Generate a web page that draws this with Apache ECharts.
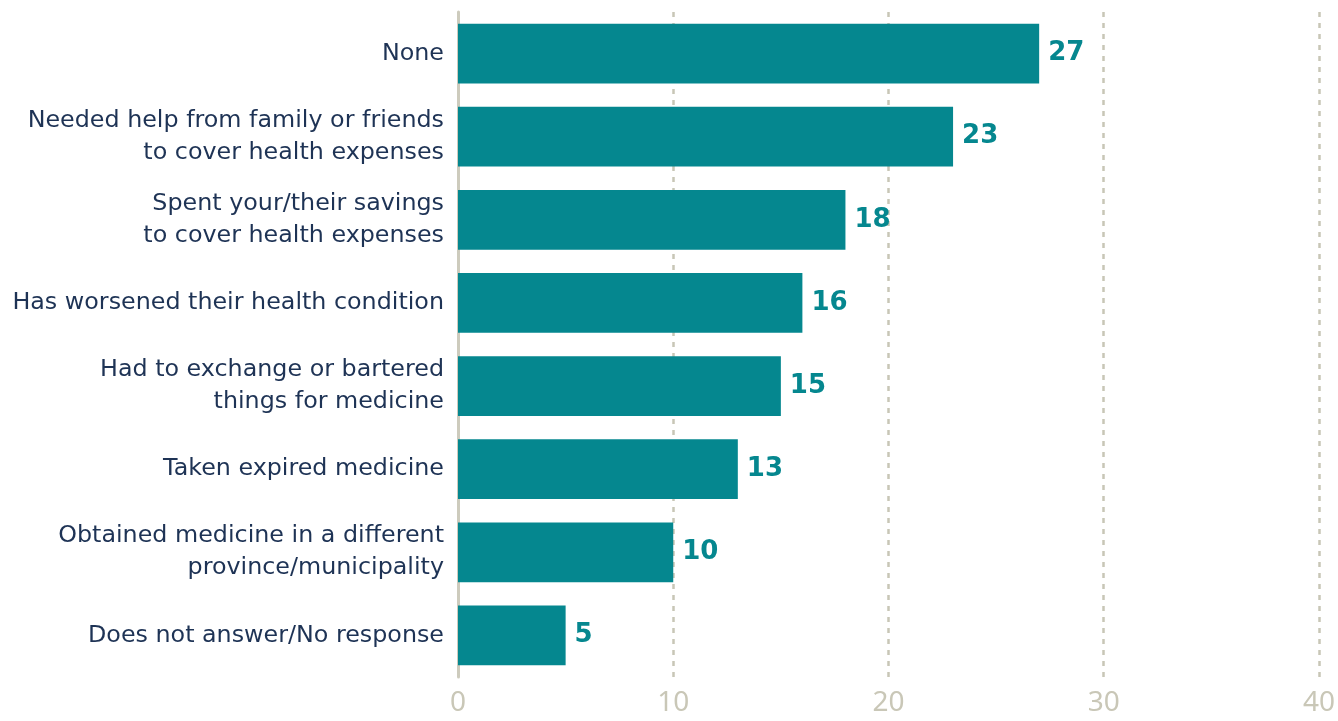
<!DOCTYPE html>
<html>
<head>
<meta charset="utf-8">
<script src="https://cdn.jsdelivr.net/npm/echarts@6/dist/echarts.min.js"></script>
<style>
  html, body { margin: 0; padding: 0; background: #ffffff; }
  #chart { width: 1338px; height: 721px; }
</style>
</head>
<body>
<div id="chart"></div>
<script>
// Coping strategies, top to bottom
const categories = [
  'None',
  'Needed help from family or friends\nto cover health expenses',
  'Spent your/their savings\nto cover health expenses',
  'Has worsened their health condition',
  'Had to exchange or bartered\nthings for medicine',
  'Taken expired medicine',
  'Obtained medicine in a different\nprovince/municipality',
  'Does not answer/No response'
];
const values = [27, 23, 18, 16, 15, 13, 10, 5];
const xTicks = [0, 10, 20, 30, 40];

const catFont = '"DejaVu Sans", "Noto Sans", sans-serif';
const tickFont = '"Noto Sans", sans-serif';
const chart = echarts.init(document.getElementById('chart'));

chart.setOption({
  animation: false,
  grid: { left: 458, right: 19, top: 12, bottom: 44, containLabel: false },
  xAxis: {
    type: 'value',
    min: xTicks[0],
    max: xTicks[xTicks.length - 1],
    interval: 10,
    axisLine: { show: false },
    axisTick: { show: false },
    axisLabel: {
      color: '#c9c7b7',
      fontSize: 28,
      fontFamily: tickFont,
      margin: 12
    },
    splitLine: {
      show: true,
      lineStyle: { color: '#c8c6b6', width: 2.5, type: [5, 6] }
    }
  },
  yAxis: {
    type: 'category',
    inverse: true,
    data: categories,
    axisLine: { show: true, lineStyle: { color: '#cdcbbd', width: 3 } },
    axisTick: { show: false },
    axisLabel: {
      color: '#1e3355',
      fontSize: 23.8,
      fontFamily: catFont,
      lineHeight: 32,
      align: 'right',
      margin: 14
    }
  },
  series: [{
    type: 'bar',
    data: values,
    barCategoryGap: '28%',
    itemStyle: { color: '#05878f' },
    label: {
      show: true,
      position: 'right',
      distance: 9,
      color: '#05878f',
      fontSize: 26,
      fontWeight: 'bold',
      fontFamily: catFont
    }
  }]
});
</script>
</body>
</html>
